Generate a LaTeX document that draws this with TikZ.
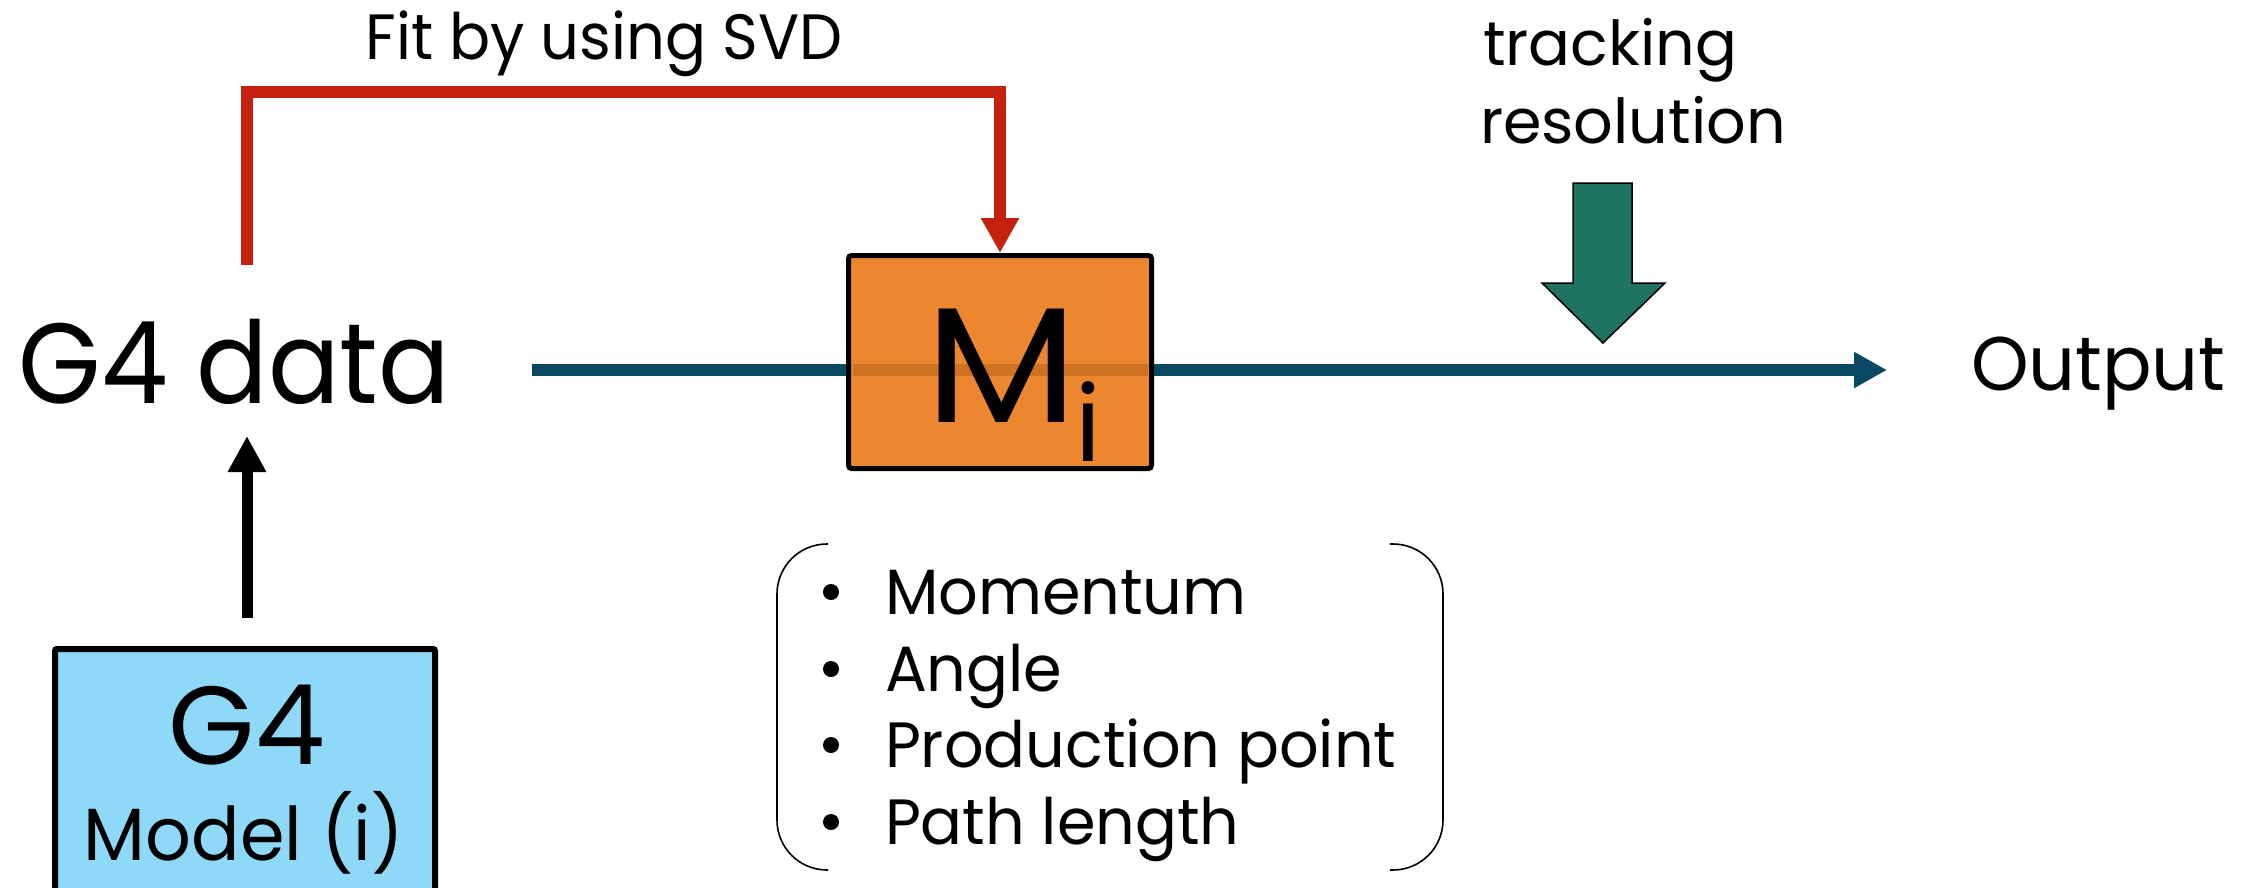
\documentclass[tikz,border=0pt]{standalone}
\usepackage{fontspec}
\setmainfont{Poppins}
\usetikzlibrary{arrows.meta}

\definecolor{fitred}{RGB}{196,34,15}
\definecolor{boxorange}{RGB}{237,135,47}
\definecolor{stripe}{RGB}{207,114,33}
\definecolor{flowblue}{RGB}{11,73,98}
\definecolor{resgreen}{RGB}{31,115,97}
\definecolor{modelblue}{RGB}{143,217,248}

% font size and horizontal squeeze
\newcommand{\fsz}[1]{\fontsize{#1}{#1}\selectfont}
\newcommand{\sq}[2]{\scalebox{#1}[1]{#2}}

\tikzset{
  txt/.style={inner sep=0pt, outer sep=0pt},
  redline/.style={draw=fitred, line width=12pt, line join=miter,
    -{Triangle[length=35pt,width=36pt]}},
  flowline/.style={draw=flowblue, line width=12.5pt,
    -{Triangle[length=33pt,width=34pt]}},
  blkline/.style={draw=black, line width=11pt,
    -{Triangle[length=36pt,width=36pt]}},
  bracket/.style={draw=black, line width=1.6pt, rounded corners=50pt},
}

\begin{document}
\begin{tikzpicture}[x=1pt,y=-1pt]
  \useasboundingbox (0,0) rectangle (2254,888);

  % main flow line, under the model box
  \node[txt, anchor=base west] (g4data) at (19,403) {\fsz{114}\sq{0.93}{G4 data}};
  \node[txt, anchor=base west] (output) at (1971,390) {\fsz{76}\sq{0.965}{Output}};
  \coordinate (flowstart) at (532,370);
  \coordinate (flowend) at (1887,370);
  \draw[flowline] (flowstart) -- (flowend);

  % model box M_i
  \node[draw=black, line width=5pt, fill=boxorange, rounded corners=3pt,
        minimum width=303pt, minimum height=213pt, inner sep=0pt]
        (mbox) at (1000,362) {};
  \fill[stripe] (852.5,364) rectangle (1147.5,376);
  \node[txt, anchor=base west] (mlabel) at (925,422)
        {\fsz{164}\sq{1.08}{M}\hspace{-2pt}\raisebox{-39pt}{\fsz{105}i}};

  % fit arrow
  \node[txt, anchor=base] (fitlabel) at (604,60) {\fsz{64}\sq{0.95}{Fit by using SVD}};
  \coordinate (fitstart) at (246.5,265);
  \draw[redline] (fitstart) -- ++(0,-173) -| (mbox.north);

  % tracking resolution input
  \node[txt, anchor=base west] (trk1) at (1483,66) {\fsz{62}tracking};
  \node[txt, anchor=base west] (trk2) at (1480,143) {\fsz{62}resolution};
  \draw[fill=resgreen, draw=black, line width=1.5pt, line join=miter]
    (1573,183) -- (1632,183) -- (1632,283) -- (1665,283) -- (1603,343)
    -- (1542,283) -- (1573,283) -- cycle;

  % G4 model box
  \node[draw=black, line width=6pt, fill=modelblue, rounded corners=2pt,
        minimum width=380pt, minimum height=260pt, inner sep=0pt]
        (g4box) at (245,779) {};
  \node[txt, anchor=base] (g4) at (247,764) {\fsz{111}G4};
  \node[txt, anchor=base] (model) at (244,860) {\fsz{74}\sq{0.97}{Model (i)}};
  \coordinate (g4tip) at (247,436);
  \draw[blkline] ([xshift=2pt,yshift=28pt]g4box.north) -- (g4tip);

  % parameter list in brackets
  \draw[bracket] (828,544) -- (777,544) -- (777,870) -- (828,870);
  \draw[bracket] (1390,544) -- (1443,544) -- (1443,870) -- (1390,870);
  \foreach \yy/\item [count=\k] in {614/Momentum, 691/Angle,
      767/Production point, 844/Path length} {
    \fill (831,\yy-22) circle (8pt);
    \node[txt, anchor=base west] (item\k) at (885,\yy) {\fsz{64}\sq{0.97}{\item}};
  }
\end{tikzpicture}
\end{document}
